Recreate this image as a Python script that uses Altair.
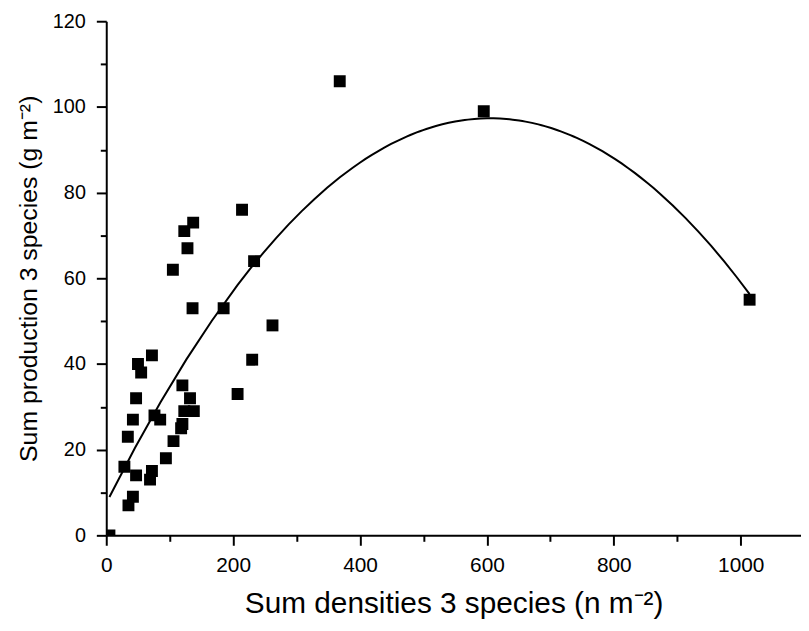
import altair as alt
import pandas as pd

densities = [5, 28.6, 35, 42, 47, 34, 42, 47, 50, 55, 72, 69, 72, 76, 85, 94, 106,
             120, 118, 120, 123, 132, 138, 136, 185, 207, 230, 262, 105, 128, 123,
             137, 214, 233, 368, 595, 1014]
production = [0, 16, 7, 9, 14, 23, 27, 32, 40, 38, 42, 13, 15, 28, 27, 18, 22,
              35, 25, 26, 29, 32, 29, 53, 53, 33, 41, 49, 62, 67, 71,
              73, 76, 64, 106, 99, 55]

x_ticks = list(range(0, 1100, 100))
y_ticks = list(range(0, 121, 10))

df = pd.DataFrame({"x": densities, "y": production})

FONT = "Liberation Sans"

x_axis = alt.Axis(
    values=x_ticks, format="d",
    labelExpr="datum.value % 200 === 0 ? datum.label : ''",
    tickSize={"condition": {"test": "datum.value % 200 === 0", "value": 10}, "value": 6},
    grid=False, domainColor="black", tickColor="black", domainWidth=2, tickWidth=2,
    labelFont=FONT, labelFontSize=21, labelColor="black", labelPadding=9,
    titleFont=FONT, titleFontSize=30, titleFontWeight="normal", titleColor="black",
    titlePadding=14, labelFlush=False,
)
y_axis = alt.Axis(
    values=y_ticks, format="d",
    labelExpr="datum.value % 20 === 0 ? datum.label : ''",
    tickSize={"condition": {"test": "datum.value % 20 === 0", "value": 10}, "value": 6},
    grid=False, domainColor="black", tickColor="black", domainWidth=2, tickWidth=2,
    labelFont=FONT, labelFontSize=20, labelColor="black", labelPadding=11,
    titleFont=FONT, titleFontSize=25, titleFontWeight="normal", titleColor="black",
    titlePadding=11, labelFlush=False,
)

xenc = alt.X("x:Q", scale=alt.Scale(domain=[0, 1095], nice=False, zero=False),
             axis=x_axis, title="Sum densities 3 species (n m\u207b\u00b2)")
yenc = alt.Y("y:Q", scale=alt.Scale(domain=[0, 120], nice=False, zero=False),
             axis=y_axis, title="Sum production 3 species (g m\u207b\u00b2)")

points = alt.Chart(df).mark_square(size=144, color="black", opacity=1, clip=True).encode(
    x=xenc, y=yenc)

fit = alt.Chart(df).transform_regression(
    "x", "y", method="poly", order=2
).mark_line(color="black", strokeWidth=2).encode(x=xenc, y=yenc)

chart = alt.layer(fit, points).properties(
    width=700, height=518,
    autosize=alt.AutoSizeParams(type="none"),
    padding={"left": 99, "top": 11, "right": 0, "bottom": 86},
).configure_view(stroke=None)

chart.save("out.html", embed_options={"renderer": "svg", "actions": False})
